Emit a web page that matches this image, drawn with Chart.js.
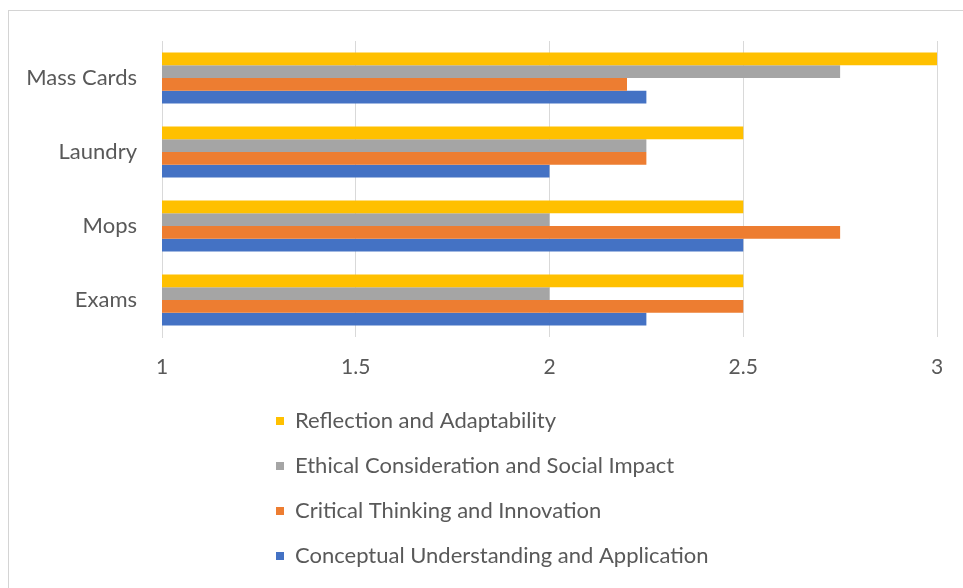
<!DOCTYPE html>
<html>
<head>
<meta charset="utf-8">
<script src="https://cdn.jsdelivr.net/npm/chart.js@4"></script>
<style>
  html, body { margin: 0; padding: 0; background: #ffffff; overflow: hidden; }
  #wrap { position: relative; width: 963px; height: 588px; overflow: hidden; }
  #frame { position: absolute; left: 8px; top: 10px; width: 2000px; height: 2000px; border: 1px solid #d4d4d4; box-sizing: border-box; }
  #c { position: absolute; left: 0; top: 0; }
</style>
</head>
<body>
<div id="wrap">
  <div id="frame"></div>
  <canvas id="c" width="963" height="588"></canvas>
</div>
<script>
const categories = ["Mass Cards", "Laundry", "Mops", "Exams"];
const seriesNames = [
  "Reflection and Adaptability",
  "Ethical Consideration and Social Impact",
  "Critical Thinking and Innovation",
  "Conceptual Understanding and Application"
];
const reflection = [3, 2.5, 2.5, 2.5];
const ethical = [2.75, 2.25, 2, 2];
const critical = [2.2, 2.25, 2.75, 2.5];
const conceptual = [2.25, 2, 2.5, 2.25];
const xTicks = [1, 1.5, 2, 2.5, 3];

const colors = ["#FFC000", "#A5A5A5", "#ED7D31", "#4472C4"];
const seriesValues = [reflection, ethical, critical, conceptual];

const FONT = "Lato";
const TEXT = "#595959";
const LEGEND_FONT = 22;
const LEGEND_BOX = 8;

const legendPlugin = {
  id: "columnLegend",
  beforeLayout(chart) {
    const lg = chart.legend;
    if (lg && !lg._colPatched) {
      const orig = lg.update;
      lg.update = function (maxWidth, maxHeight, margins) {
        return orig.call(this, 580, maxHeight, margins);
      };
      lg._colPatched = true;
    }
  },
  afterLayout(chart) {
    const lg = chart.legend;
    if (!lg) return;
    const pad = lg.options.labels.padding;
    const ih = Math.max(LEGEND_FONT, LEGEND_BOX);
    lg.left = 276 - pad;
    lg.right = lg.left + 580;
    const d = (421 - pad - ih / 2) - lg.top;
    lg.top += d;
    lg.bottom += d;
  }
};

new Chart(document.getElementById("c"), {
  type: "bar",
  data: {
    labels: categories,
    datasets: seriesNames.map((name, i) => ({
      label: name,
      data: seriesValues[i],
      backgroundColor: colors[i],
      borderWidth: 0,
      categoryPercentage: 0.69,
      barPercentage: 1.0
    }))
  },
  options: {
    indexAxis: "y",
    responsive: false,
    animation: false,
    devicePixelRatio: 1,
    layout: { padding: { top: 41, right: 26, bottom: 16, left: 0 } },
    scales: {
      x: {
        min: 1,
        max: 3,
        afterBuildTicks(scale) { scale.ticks = xTicks.map(v => ({ value: v })); },
        afterFit(scale) { scale.height = 45; },
        grid: { color: "#d9d9d9", drawTicks: false, lineWidth: 1 },
        border: { display: false },
        ticks: {
          padding: 18,
          color: TEXT,
          font: { family: FONT, size: 21 },
          callback: (v) => String(v)
        }
      },
      y: {
        afterFit(scale) { scale.width = 162; },
        grid: { display: false, drawTicks: false },
        border: { display: true, color: "#d9d9d9" },
        ticks: {
          padding: 25,
          color: TEXT,
          font: { family: FONT, size: 22 }
        }
      }
    },
    plugins: {
      legend: {
        position: "bottom",
        align: "start",
        labels: {
          boxWidth: LEGEND_BOX,
          boxHeight: LEGEND_BOX,
          padding: 23,
          color: TEXT,
          font: { family: FONT, size: LEGEND_FONT }
        }
      },
      tooltip: { enabled: false }
    }
  },
  plugins: [legendPlugin]
});
</script>
</body>
</html>
